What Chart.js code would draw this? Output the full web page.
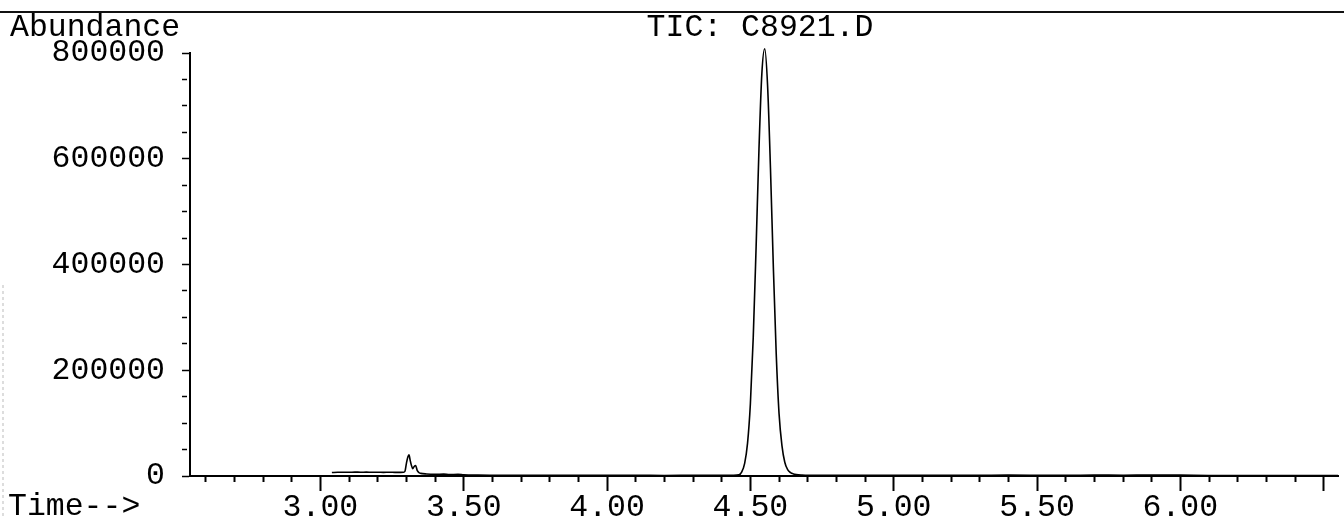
<!DOCTYPE html>
<html>
<head>
<meta charset="utf-8">
<script src="https://cdn.jsdelivr.net/npm/chart.js@4.4.1/dist/chart.umd.min.js"></script>
<style>
  html, body { margin: 0; padding: 0; background: #fff; }
  #tic { display: block; }
</style>
</head>
<body>
<canvas id="tic" width="1344" height="519"></canvas>
<script>
// retention time (min) and total ion count
const times = [
  3.04, 3.06, 3.08, 3.10, 3.12, 3.14, 3.16, 3.18, 3.20, 3.22, 3.24, 3.26, 3.28, 3.29,
  3.295, 3.30, 3.305, 3.309, 3.313, 3.317, 3.322, 3.327, 3.332, 3.338, 3.345, 3.35,
  3.37, 3.40, 3.43, 3.45, 3.48, 3.50, 3.55, 3.60, 3.70, 3.80, 3.90, 4.00, 4.10,
  4.20, 4.30, 4.40, 4.44, 4.46, 4.47, 4.48, 4.49, 4.50, 4.51, 4.52, 4.53, 4.54,
  4.55, 4.56, 4.57, 4.58, 4.59, 4.60, 4.61, 4.62, 4.63, 4.64, 4.65, 4.66, 4.68,
  4.70, 4.80, 4.90, 5.00, 5.10, 5.20, 5.30, 5.40, 5.50, 5.60, 5.70, 5.80, 5.90,
  6.00, 6.10, 6.20, 6.30, 6.40, 6.50, 6.55
];
const abundance = [
  6500, 7000, 7200, 7000, 7400, 7100, 7300, 7000, 7200, 6900, 7100, 6800, 6900, 7000,
  9000, 24000, 36000, 40000, 30000, 21000, 14000, 18000, 20000, 10000, 6000, 5000,
  3800, 3200, 3600, 2600, 3000, 2200, 1600, 1300, 1500, 1200, 1400, 1100, 1300,
  1000, 1200, 1300, 1500, 2300, 8000, 24000, 61600, 136600, 262400, 433800, 618800, 761000,
  808000, 738600, 583000, 396900, 233000, 118000, 58000, 26000, 12000, 6500, 4000, 2800, 1800,
  1300, 1500, 1200, 1400, 1500, 1200, 1300, 1600, 1400, 1300, 1700, 1500, 1800,
  1600, 1000, 900, 1000, 800, 900, 800
];

const xMin = 2.545;
const xMax = 6.55;
const yMax = 800000;

const FONT = "'Liberation Mono', 'Courier New', monospace";
const points = times.map((t, i) => ({ x: t, y: abundance[i] }));

// header rule, axis captions and title
const decor = {
  id: 'decor',
  afterDraw(chart) {
    const c = chart.ctx;
    const area = chart.chartArea;
    c.save();
    c.strokeStyle = '#111';
    c.lineWidth = 2;
    c.beginPath();
    c.moveTo(0, 12);
    c.lineTo(1344, 12);
    c.stroke();
    // faint scan mark at the left edge
    c.strokeStyle = '#bbb';
    c.lineWidth = 1;
    c.setLineDash([3, 3]);
    c.beginPath();
    c.moveTo(3, 285);
    c.lineTo(3, 519);
    c.stroke();
    c.setLineDash([]);
    c.fillStyle = '#000';
    c.font = '31.5px ' + FONT;
    c.textBaseline = 'alphabetic';
    c.textAlign = 'left';
    c.fillText('Abundance', 10, 36);
    c.fillText('Time-->', 8, 515);
    c.textAlign = 'center';
    c.fillText('TIC: C8921.D', (area.left + area.right) / 2 - 4, 36);
    c.restore();
  }
};

new Chart(document.getElementById('tic'), {
  type: 'line',
  data: {
    datasets: [{
      data: points,
      borderColor: '#000',
      borderWidth: 1.6,
      pointRadius: 0,
      fill: false,
      tension: 0,
      cubicInterpolationMode: 'monotone',
      clip: false
    }]
  },
  options: {
    responsive: false,
    animation: false,
    devicePixelRatio: 1,
    layout: { padding: { top: 53, right: 6, bottom: 0, left: 0 } },
    plugins: { legend: { display: false }, tooltip: { enabled: false } },
    scales: {
      x: {
        type: 'linear',
        min: xMin,
        max: xMax,
        afterFit: s => { s.height = 43; },
        border: { display: true, color: '#000', width: 2 },
        grid: {
          drawOnChartArea: false,
          tickLength: 15,
          tickColor: '#000',
          tickWidth: 2,
          tickBorderDash: ctx => Math.round(ctx.tick.value * 10) % 5 === 0 ? [] : [5, 100]
        },
        ticks: {
          stepSize: 0.1,
          autoSkip: false,
          includeBounds: false,
          maxRotation: 0,
          padding: -2,
          color: '#000',
          font: { family: FONT, size: 31.5 },
          callback: v => {
            const r = Math.round(v * 100);
            return (r % 50 === 0 && r <= 600) ? (r / 100).toFixed(2) : '';
          }
        }
      },
      y: {
        min: 0,
        max: yMax,
        afterFit: s => { s.width = 190; },
        border: { display: true, color: '#000', width: 2 },
        grid: {
          drawOnChartArea: false,
          tickLength: 8,
          tickColor: '#000',
          tickWidth: 1.5,
          tickBorderDash: ctx => ctx.tick.value % 200000 === 0 ? [] : [5, 100]
        },
        ticks: {
          stepSize: 50000,
          autoSkip: false,
          padding: 17,
          color: '#000',
          font: { family: FONT, size: 31.5 },
          callback: v => v % 200000 === 0 ? String(v) : ''
        }
      }
    }
  },
  plugins: [decor]
});
</script>
</body>
</html>
